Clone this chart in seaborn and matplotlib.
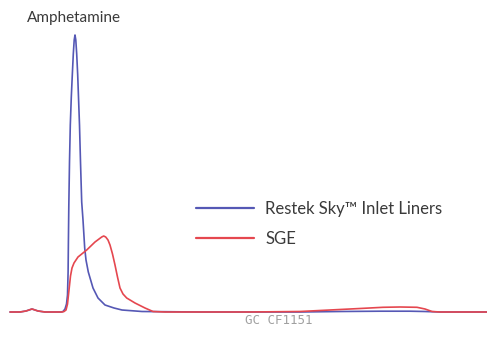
import matplotlib
matplotlib.use("Agg")
import matplotlib.pyplot as plt
import seaborn as sns
import pandas as pd

# Retention time (arbitrary units) and detector response
sky_time = [10, 20, 26, 32, 38, 45, 55, 61, 63, 65, 66.5, 67.5, 68.1, 68.4, 68.8, 69.5, 70.3,
            71.3, 72.3, 73.3, 74.2, 75, 75.8, 76.7, 77.7, 78.6, 79.5, 80.5, 81.7, 83,
            84.7, 86, 88.3, 93, 98, 105, 114, 122, 142, 200,
            300, 340, 380, 410, 425, 440, 487]
sky_signal = [0, 0, 1, 3, 1, 0, 0, 0, 0.5, 3, 8, 17, 40, 70, 105, 150, 187,
              215, 237, 258, 272, 277, 272, 258, 237, 212, 187, 150, 110, 92,
              64, 52, 40, 24, 14, 7, 4, 2, 0.5, 0,
              0, 0.5, 0.8, 0.8, 0.5, 0, 0]

sge_time = [10, 20, 26, 32, 38, 45, 55, 62, 64, 66, 67.5, 69, 70.5, 72, 74, 78, 86.7, 95,
            101.7, 103.7, 105.7, 108, 110, 112.5, 115, 117.5, 120, 123, 126.7, 135, 145,
            153, 165, 200, 250, 300, 330, 360, 383, 400, 417, 425, 432, 440, 487]
sge_signal = [0, 0, 1, 3, 1, 0, 0, 0, 0.5, 2, 8, 22, 36, 44, 49, 55, 62, 70,
              75, 76, 75, 72, 67, 58, 47, 35, 24, 18, 14, 9, 4,
              0.5, 0, 0, 0, 0.5, 2, 3.5, 4.7, 5, 4.7, 3, 0.5, 0, 0]

series_labels = ["Restek Sky\u2122 Inlet Liners", "SGE"]
peak_label = "Amphetamine"
footer = "GC CF1151"

df = pd.concat([
    pd.DataFrame({"time": sky_time, "signal": sky_signal, "liner": series_labels[0]}),
    pd.DataFrame({"time": sge_time, "signal": sge_signal, "liner": series_labels[1]}),
], ignore_index=True)

sns.set_theme(style="white")
plt.rcParams["font.family"] = ["Lato", "DejaVu Sans"]

fig = plt.figure(figsize=(4.87, 3.54), dpi=100)
ax = fig.add_axes([0, 0, 1, 1])
sns.lineplot(data=df, x="time", y="signal", hue="liner",
             palette={series_labels[0]: "#5558b5", series_labels[1]: "#e5474f"},
             estimator=None, sort=True, linewidth=1.2, ax=ax)

ax.set_xlim(0, 487)
ax.set_ylim(-42, 312)
ax.axis("off")

ax.text(74, 312 - 18, peak_label, ha="center", va="center", fontsize=11, color="#3a3a3a")
ax.text(279, 312 - 321, footer, ha="center", va="center", fontsize=9, color="#a0a0a0",
        family="DejaVu Sans Mono")

leg = ax.legend(loc="upper left", bbox_to_anchor=(196 / 487, 1 - 201 / 354),
                frameon=False, fontsize=12, handlelength=3.45, handletextpad=0.7,
                labelspacing=0.82, borderaxespad=0, borderpad=0)
for t in leg.get_texts():
    t.set_color("#3a3a3a")
for line in leg.get_lines():
    line.set_linewidth(1.6)

fig.savefig("out.png", dpi=100)
